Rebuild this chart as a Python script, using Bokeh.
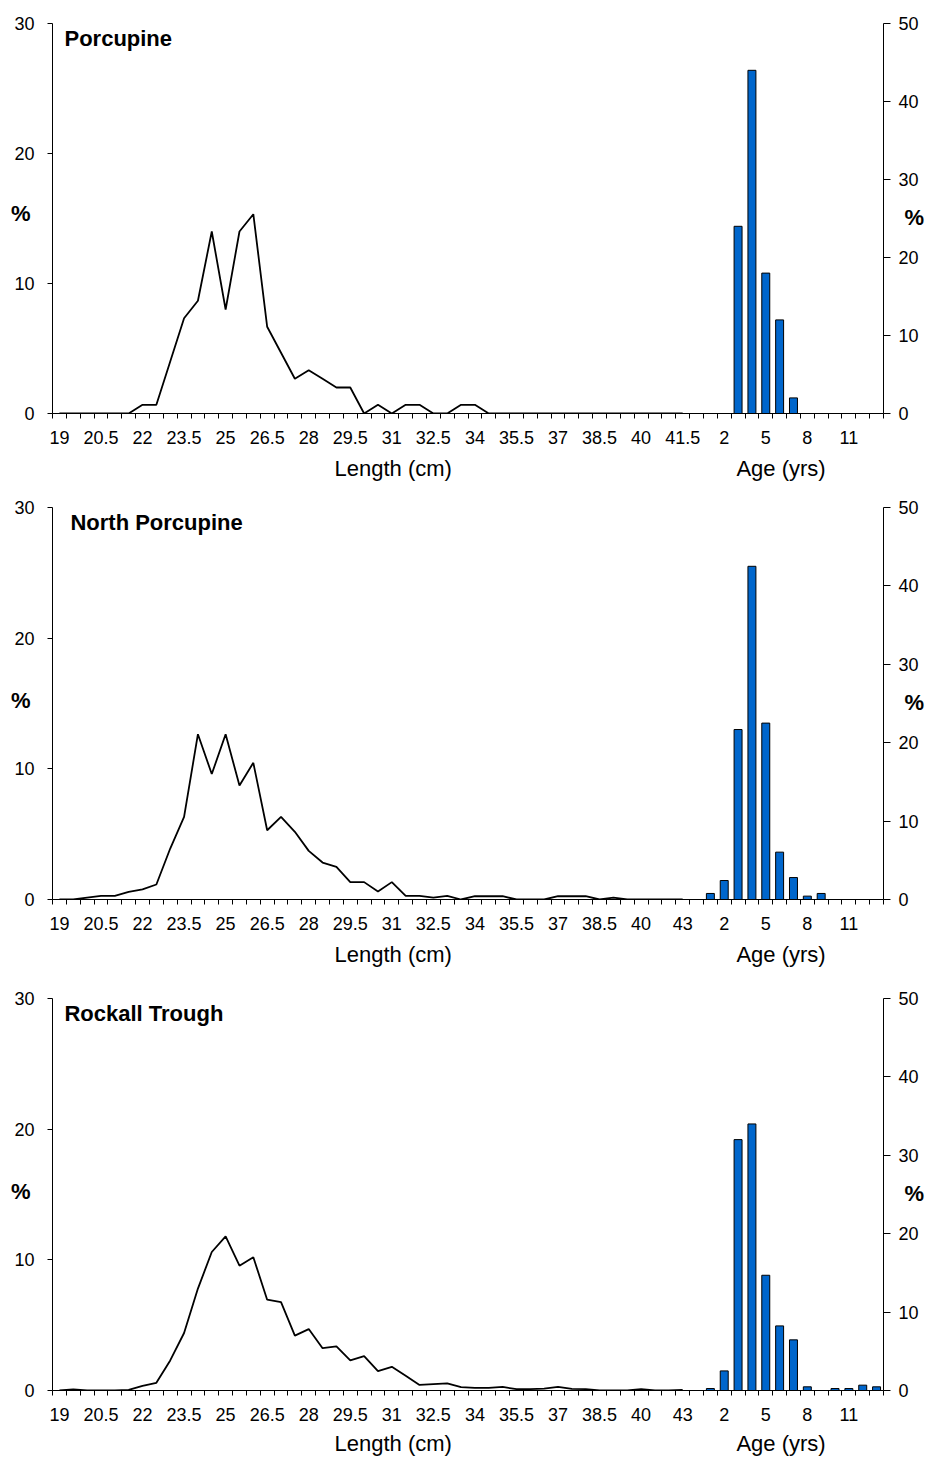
from bokeh.plotting import figure
from bokeh.models import Range1d, LinearAxis, FixedTicker, Label, ColumnDataSource
from bokeh.layouts import column
from bokeh.embed import file_html
from bokeh.resources import INLINE

# ---------------- data ----------------
len_cats_porc = ["19", "19.5", "20", "20.5", "21", "21.5", "22", "22.5", "23", "23.5",
                 "24", "24.5", "25", "25.5", "26", "26.5", "27", "27.5", "28", "28.5",
                 "29", "29.5", "30", "30.5", "31", "31.5", "32", "32.5", "33", "33.5",
                 "34", "34.5", "35", "35.5", "36", "36.5", "37", "37.5", "38", "38.5",
                 "39", "39.5", "40", "40.5", "41", "41.5"]
len_cats_other = ["19", "19.5", "20", "20.5", "21", "21.5", "22", "22.5", "23", "23.5",
                  "24", "24.5", "25", "25.5", "26", "26.5", "27", "27.5", "28", "28.5",
                  "29", "29.5", "30", "30.5", "31", "31.5", "32", "32.5", "33", "33.5",
                  "34", "34.5", "35", "35.5", "36", "36.5", "37", "37.5", "38", "38.5",
                  "39", "39.5", "40", "40.5", "41", "43"]
age_cats = ["0", "1", "2", "3", "4", "5", "6", "7", "8", "9", "10", "11", "12", "13"]

porc_len_pct = [0, 0, 0, 0, 0, 0, 0.67, 0.67, 4.0, 7.33,
                8.67, 14.0, 8.0, 14.0, 15.33, 6.67, 4.67, 2.67, 3.33, 2.67,
                2.0, 2.0, 0, 0.67, 0, 0.67, 0.67, 0, 0, 0.67,
                0.67, 0, 0, 0, 0, 0, 0, 0, 0, 0,
                0, 0, 0, 0, 0, 0]
porc_age_pct = [0, 0, 0, 24, 44, 18, 12, 2, 0, 0, 0, 0, 0, 0]

nporc_len_pct = [0, 0, 0.15, 0.28, 0.28, 0.59, 0.77, 1.15, 3.9, 6.33,
                 12.65, 9.6, 12.65, 8.72, 10.46, 5.3, 6.33, 5.18, 3.72, 2.83,
                 2.5, 1.33, 1.33, 0.61, 1.33, 0.28, 0.28, 0.15, 0.28, 0,
                 0.25, 0.25, 0.25, 0, 0, 0, 0.25, 0.25, 0.25, 0,
                 0.15, 0, 0, 0, 0, 0]
nporc_age_pct = [0, 0.77, 2.42, 21.68, 42.5, 22.5, 6.04, 2.8, 0.43, 0.77, 0, 0, 0, 0]

rock_len_pct = [0, 0.08, 0, 0, 0, 0.05, 0.36, 0.59, 2.3, 4.4,
                7.8, 10.6, 11.8, 9.55, 10.2, 6.95, 6.77, 4.2, 4.7, 3.24,
                3.37, 2.3, 2.63, 1.48, 1.81, 1.12, 0.43, 0.49, 0.54, 0.26,
                0.2, 0.2, 0.27, 0.1, 0.1, 0.15, 0.27, 0.12, 0.1, 0,
                0, 0, 0.1, 0, 0, 0.05]
rock_age_pct = [0, 0.25, 2.5, 32.0, 34.0, 14.7, 8.24, 6.46, 0.47, 0, 0.25, 0.25, 0.68, 0.47]

left_ticks = [0, 10, 20, 30]
right_ticks = [0, 10, 20, 30, 40, 50]
x_titles = ["Length (cm)", "Age (yrs)"]

FONT = "Liberation Sans"
BAR_COLOR = "#0066CC"


def make_panel(title, len_cats, len_pct, age_pct, height, top, bottom, left, right,
               title_dx, pct_left_pos, pct_right_pos, title_standoff):
    cats = len_cats + age_cats
    n = len(cats)
    nl = len(len_cats)
    p = figure(width=928, height=height, output_backend="svg", toolbar_location=None,
               x_range=Range1d(0, 2 * n), y_range=Range1d(0, 30),
               x_axis_type=None, y_axis_type=None,
               min_border_left=left, min_border_right=right,
               min_border_top=top, min_border_bottom=bottom)
    p.outline_line_color = None
    p.background_fill_color = "white"
    p.border_fill_color = "white"
    p.extra_y_ranges = {"age": Range1d(0, 50), "pos": Range1d(0, 300)}
    p.extra_x_ranges = {"pos": Range1d(0, 1200)}

    # category axis (labels every third category, ticks at category boundaries)
    label_idx = list(range(0, n, 3))
    xaxis = LinearAxis(
        ticker=FixedTicker(ticks=[2 * i + 1 for i in label_idx],
                           minor_ticks=list(range(0, 2 * n + 1, 2))),
        major_label_overrides={2 * i + 1: cats[i] for i in label_idx},
        major_tick_out=0, major_tick_in=0, minor_tick_out=5, minor_tick_in=0,
        major_label_standoff=12,
        major_label_text_font=FONT, major_label_text_font_size="18px",
        major_label_text_color="black",
        axis_line_color="black", minor_tick_line_color="black",
    )
    p.add_layout(xaxis, "below")

    # axis titles below: "Length (cm)" and "Age (yrs)"
    title_pos = [492, 1052]
    xt = LinearAxis(
        x_range_name="pos",
        ticker=FixedTicker(ticks=title_pos, minor_ticks=[]),
        major_label_overrides={title_pos[k]: x_titles[k] for k in range(2)},
        major_tick_out=0, major_tick_in=0, minor_tick_out=0, minor_tick_in=0,
        major_label_standoff=title_standoff,
        major_label_text_font=FONT, major_label_text_font_size="22px",
        major_label_text_color="black",
        axis_line_color=None, major_tick_line_color=None, minor_tick_line_color=None,
    )
    p.add_layout(xt, "below")

    yl = LinearAxis(ticker=FixedTicker(ticks=left_ticks, minor_ticks=[]),
                    major_tick_out=5, major_tick_in=0, minor_tick_out=0, minor_tick_in=0,
                    major_label_standoff=13,
                    major_label_text_font=FONT, major_label_text_font_size="18px",
                    major_label_text_color="black",
                    axis_line_color="black", major_tick_line_color="black")
    p.add_layout(yl, "left")

    yl2 = LinearAxis(y_range_name="pos", ticker=FixedTicker(ticks=[pct_left_pos], minor_ticks=[]),
                     major_label_overrides={pct_left_pos: "%"},
                     major_tick_out=0, major_tick_in=0, minor_tick_out=0, minor_tick_in=0,
                     major_label_standoff=-19,
                     major_label_text_font=FONT, major_label_text_font_size="22px",
                     major_label_text_font_style="bold",
                     major_label_text_color="black",
                     axis_line_color=None, major_tick_line_color=None, minor_tick_line_color=None)
    p.add_layout(yl2, "left")

    yr = LinearAxis(y_range_name="age", ticker=FixedTicker(ticks=right_ticks, minor_ticks=[]),
                    major_tick_out=7, major_tick_in=0, minor_tick_out=0, minor_tick_in=0,
                    major_label_standoff=8,
                    major_label_text_font=FONT, major_label_text_font_size="18px",
                    major_label_text_color="black",
                    axis_line_color="black", major_tick_line_color="black")
    p.add_layout(yr, "right")

    yr2 = LinearAxis(y_range_name="pos", ticker=FixedTicker(ticks=[pct_right_pos], minor_ticks=[]),
                     major_label_overrides={pct_right_pos: "%"},
                     major_tick_out=0, major_tick_in=0, minor_tick_out=0, minor_tick_in=0,
                     major_label_standoff=-17,
                     major_label_text_font=FONT, major_label_text_font_size="22px",
                     major_label_text_font_style="bold",
                     major_label_text_color="black",
                     axis_line_color=None, major_tick_line_color=None, minor_tick_line_color=None)
    p.add_layout(yr2, "right")

    line_src = ColumnDataSource(dict(x=[2 * i + 1 for i in range(nl)], y=len_pct))
    p.line("x", "y", source=line_src, line_color="black", line_width=1.8)

    bar_src = ColumnDataSource(dict(x=[2 * (nl + j) + 1 for j in range(len(age_cats))], top=age_pct))
    p.vbar(x="x", top="top", bottom=0, width=1.15, source=bar_src, y_range_name="age",
           fill_color=BAR_COLOR, line_color="black", line_width=1)

    px_per_unit = (928 - left - right) / (2 * n)
    p.add_layout(Label(x=title_dx / px_per_unit, y=28.85, text=title,
                       text_font=FONT, text_font_size="22px", text_font_style="bold",
                       text_color="black", text_align="left", text_baseline="middle"))
    return p


p1 = make_panel("Porcupine", len_cats_porc, porc_len_pct, porc_age_pct,
                490, 23, 77, 50, 45, 12, 154, 151, 9)
p2 = make_panel("North Porcupine", len_cats_other, nporc_len_pct, nporc_age_pct,
                490, 17, 81, 52, 42, 18, 152, 151, 9)
p3 = make_panel("Rockall Trough", len_cats_other, rock_len_pct, rock_age_pct,
                478, 18, 68, 52, 42, 12, 152, 151, 7)

layout = column(p1, p2, p3, spacing=0)
open("out.html", "w").write(file_html(layout, INLINE))
